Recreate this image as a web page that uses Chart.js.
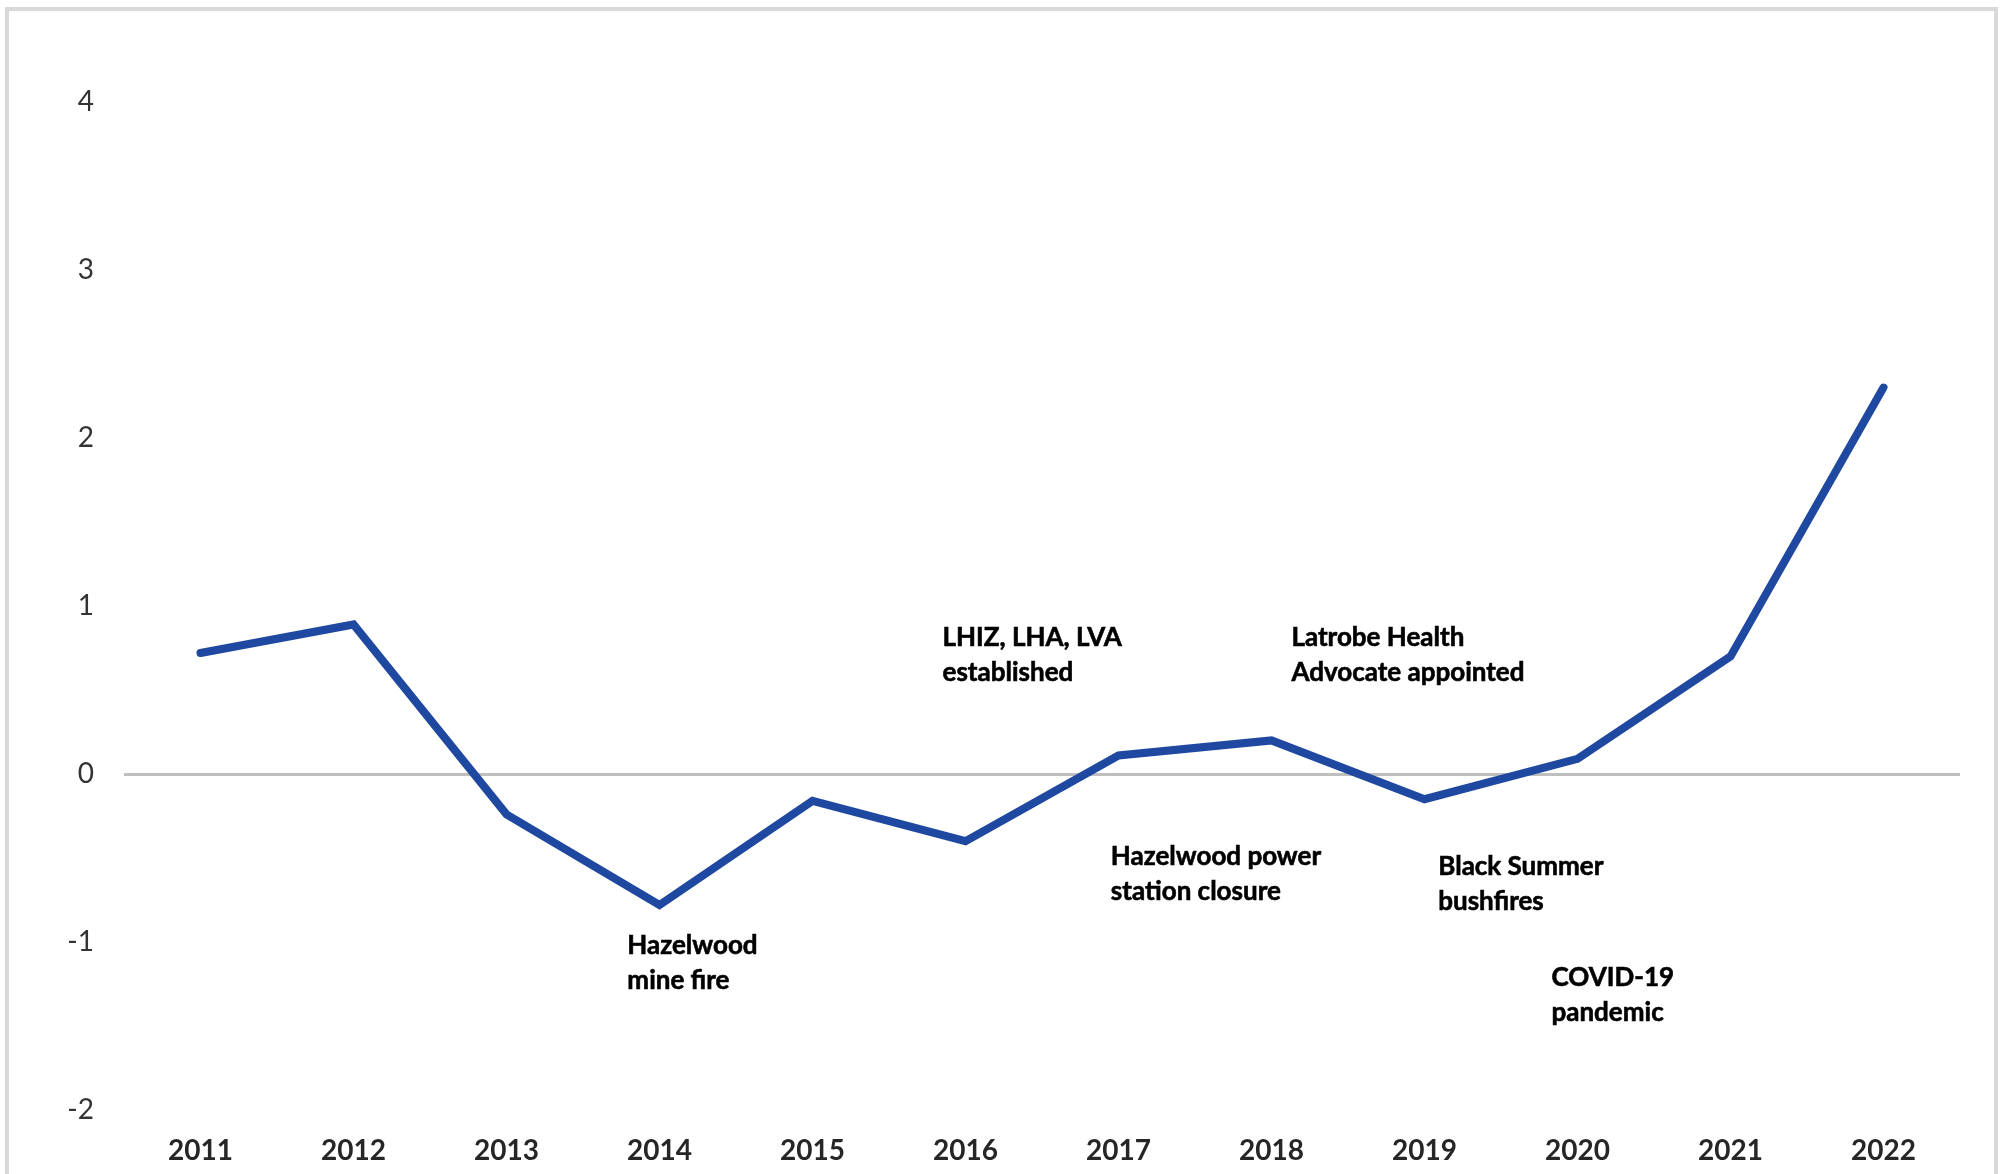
<!DOCTYPE html>
<html>
<head>
<meta charset="utf-8">
<script src="https://cdn.jsdelivr.net/npm/chart.js@4"></script>
<style>
  html, body { margin: 0; padding: 0; background: #fff; }
  #wrap { position: absolute; left: 0; top: 0; width: 2004px; height: 1174px; }
  #frame {
    position: absolute; left: 5px; top: 7px; width: 1985px; height: 1180px;
    border: 4px solid #d9d9d9; border-bottom: none; pointer-events: none;
  }
</style>
</head>
<body>
<div id="wrap"><canvas id="chart"></canvas></div>
<div id="frame"></div>
<script>
// years on the x axis
const years = ['2011', '2012', '2013', '2014', '2015', '2016', '2017', '2018', '2019', '2020', '2021', '2022'];
// series values
const values = [0.72, 0.89, -0.24, -0.78, -0.16, -0.40, 0.11, 0.20, -0.15, 0.09, 0.70, 2.30];
// y axis range
const yMin = -2;
const yMax = 4;

// event notes: text lines and where they sit (category index, y value)
const noteLines = [
    ['Hazelwood', 'mine fire'],
    ['LHIZ, LHA, LVA', 'established'],
    ['Hazelwood power', 'station closure'],
    ['Latrobe Health', 'Advocate appointed'],
    ['Black Summer', 'bushfires'],
    ['COVID-19', 'pandemic']
];
const noteX = [2.79, 4.85, 5.95, 7.13, 8.09, 8.83];
const noteY = [-1.02, 0.81, -0.49, 0.81, -0.55, -1.21];

const notesPlugin = {
    id: 'notes',
    afterDatasetsDraw(chart) {
        const ctx = chart.ctx;
        const xs = chart.scales.x;
        const ys = chart.scales.y;
        ctx.save();
        ctx.font = 'bold 26px Lato';
        ctx.fillStyle = '#000000';
        ctx.strokeStyle = '#000000';
        ctx.lineWidth = 0.6;
        ctx.textAlign = 'left';
        ctx.textBaseline = 'middle';
        noteLines.forEach((lines, i) => {
            const px = xs.getPixelForValue(noteX[i]);
            const py = ys.getPixelForValue(noteY[i]);
            lines.forEach((t, j) => {
                ctx.fillText(t, px, py + j * 35);
                ctx.strokeText(t, px, py + j * 35);
            });
        });
        ctx.restore();
    }
};

const ctx = document.getElementById('chart').getContext('2d');
new Chart(ctx, {
    type: 'line',
    data: {
        labels: years,
        datasets: [{
            data: values,
            borderColor: '#1f48a0',
            borderWidth: 8,
            borderCapStyle: 'round',
            pointRadius: 0,
            tension: 0,
            fill: false
        }]
    },
    options: {
        responsive: true,
        maintainAspectRatio: false,
        animation: false,
        layout: { padding: { left: 0, top: 102, right: 44, bottom: 0 } },
        plugins: {
            legend: { display: false },
            tooltip: { enabled: false }
        },
        scales: {
            x: {
                offset: true,
                grid: { display: false, drawTicks: false },
                border: { display: false },
                ticks: {
                    color: '#262626',
                    font: { family: 'Lato', size: 28, weight: 'bold' },
                    padding: 24,
                    maxRotation: 0
                },
                afterFit(scale) { scale.height = 64; }
            },
            y: {
                min: yMin,
                max: yMax,
                ticks: {
                    stepSize: 1,
                    color: '#333333',
                    font: { family: 'Lato', size: 28 },
                    padding: 30
                },
                grid: {
                    drawTicks: false,
                    lineWidth: 3,
                    color: c => (c.tick && c.tick.value === 0) ? '#bfbfbf' : 'rgba(0,0,0,0)'
                },
                border: { display: false },
                afterFit(scale) { scale.width = 124; }
            }
        }
    },
    plugins: [notesPlugin]
});
</script>
</body>
</html>
